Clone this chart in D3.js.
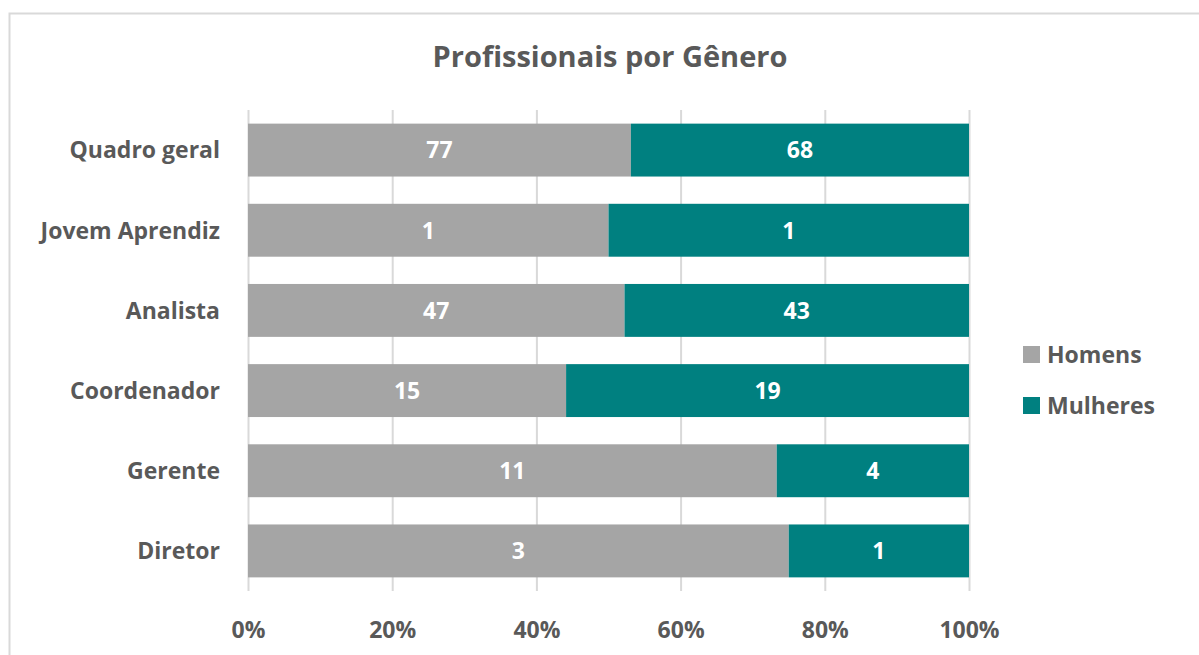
<!DOCTYPE html>
<html lang="pt">
<head>
<meta charset="UTF-8" />
<title>Profissionais por Gênero</title>
<script src="https://d3js.org/d3.v7.min.js"></script>
<style>
    body { margin: 0; background: #fff; }
    text { font-family: "Open Sans", Lato, sans-serif; font-weight: bold; }
    .axis path { display: none; }
    .axis line { stroke: #d9d9d9; }
    .axis text { fill: #595959; font-size: 23px; }
</style>
</head>
<body>
<script>
    var categories = ["Quadro geral", "Jovem Aprendiz", "Analista", "Coordenador", "Gerente", "Diretor"];
    var homens = [77, 1, 47, 15, 11, 3];
    var mulheres = [68, 1, 43, 19, 4, 1];
    var seriesNames = ["Homens", "Mulheres"];
    var tickValues = [0, 0.2, 0.4, 0.6, 0.8, 1];

    var W = 1199, H = 655;
    var colors = ["#a5a5a5", "#008080"];

    var rows = categories.map(function (c, i) {
        var total = homens[i] + mulheres[i];
        return { cat: c, Homens: homens[i] / total, Mulheres: mulheres[i] / total,
                 raw: { Homens: homens[i], Mulheres: mulheres[i] } };
    });

    var svg = d3.select("body").append("svg")
        .attr("width", W).attr("height", H);

    // outer chart frame (runs past the window at right/bottom)
    svg.append("rect")
        .attr("x", 9.5).attr("y", 13.5)
        .attr("width", W + 20).attr("height", H + 20)
        .attr("fill", "none").attr("stroke", "#d9d9d9").attr("stroke-width", 2);

    svg.append("text")
        .attr("x", 610).attr("y", 67)
        .attr("text-anchor", "middle")
        .attr("fill", "#595959").style("font-size", "29px")
        .text("Profissionais por Gênero");

    var x = d3.scaleLinear().domain([0, 1]).range([248, 969]);
    var y = d3.scaleBand().domain(categories).range([110, 591]).paddingInner(0.34).paddingOuter(0.17);

    // gridlines / ticks
    var xAxis = svg.append("g")
        .attr("class", "axis")
        .attr("transform", "translate(0,591)")
        .call(d3.axisBottom(x).tickValues(tickValues).tickFormat(d3.format(".0%"))
            .tickSize(0).tickPadding(31));
    xAxis.selectAll(".tick line")
        .attr("y1", 0).attr("y2", -481).attr("stroke-width", 2);

    var yAxis = svg.append("g")
        .attr("class", "axis")
        .attr("transform", "translate(248,0)")
        .call(d3.axisLeft(y).tickSize(0).tickPadding(28));
    yAxis.selectAll("text").attr("dy", "0.36em");

    var stack = d3.stack().keys(seriesNames);
    var layers = stack(rows);

    var g = svg.selectAll(".layer")
        .data(layers).enter().append("g")
        .attr("class", "layer")
        .attr("fill", function (d, i) { return colors[i]; });

    g.selectAll("rect")
        .data(function (d) { return d; })
        .enter().append("rect")
        .attr("x", function (d) { return x(d[0]); })
        .attr("y", function (d) { return y(d.data.cat); })
        .attr("width", function (d) { return x(d[1]) - x(d[0]); })
        .attr("height", y.bandwidth());

    g.each(function (layer) {
        d3.select(this).selectAll("text.lbl")
            .data(layer).enter().append("text")
            .attr("class", "lbl")
            .attr("x", function (d) { return (x(d[0]) + x(d[1])) / 2; })
            .attr("y", function (d) { return y(d.data.cat) + y.bandwidth() / 2; })
            .attr("dy", "0.36em")
            .attr("text-anchor", "middle")
            .attr("fill", "#fff").style("font-size", "23px")
            .text(function (d) { return d.data.raw[layer.key]; });
    });

    // legend
    var legend = svg.append("g").attr("transform", "translate(1023,340)");
    seriesNames.forEach(function (s, i) {
        var row = legend.append("g").attr("transform", "translate(0," + (i * 51) + ")");
        row.append("rect").attr("x", 0).attr("y", 6).attr("width", 17).attr("height", 17)
            .attr("fill", colors[i]);
        row.append("text").attr("x", 24).attr("y", 15).attr("dy", "0.36em")
            .attr("fill", "#595959").style("font-size", "23px").text(s);
    });
</script>
</body>
</html>
